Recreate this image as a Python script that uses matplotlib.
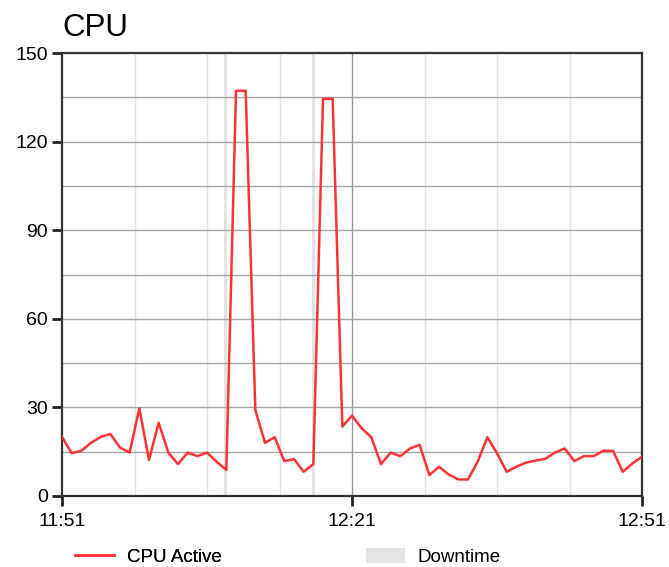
import numpy as np
import matplotlib.pyplot as plt
from matplotlib.lines import Line2D
from matplotlib.patches import Patch

plt.rcParams['font.family'] = ['Liberation Sans', 'DejaVu Sans']

# one sample per minute, 11:51 -> 12:51
minutes = np.arange(61)
cpu_active = [20, 14.5, 15.3, 18, 20, 21, 16.4, 14.7, 29.7, 12.2,
              24.8, 14.7, 10.8, 14.7, 13.5, 14.7, 11.6, 8.8, 137.2, 137.2,
              29.1, 18, 19.9, 11.8, 12.5, 8.2, 10.8, 134.5, 134.5, 23.5,
              27.2, 22.9, 19.9, 10.8, 14.7, 13.5, 16.1, 17.3, 7.1, 9.9,
              7.3, 5.6, 5.6, 11.6, 19.9, 14.5, 8.2, 9.9, 11.3, 12.0,
              12.6, 14.7, 16.1, 11.8, 13.5, 13.5, 15.3, 15.3, 8.2, 11.0,
              13.3]
downtime = [(16.8, 17.05), (25.9, 26.2)]   # minutes after 11:51
xtick_pos = [0, 30, 60]
xtick_labels = ['11:51', '12:21', '12:51']
yticks = [0, 30, 60, 90, 120, 150]

fig = plt.figure(figsize=(6.69, 5.67), dpi=100)
ax = fig.add_axes([62/669, 71/567, 580/669, 443/567])

# grid
for m in np.arange(7.5, 60, 7.5):
    if m == 30:
        ax.axvline(m, color='#999999', lw=1.0, zorder=1)
    else:
        ax.axvline(m, color='#e4e4e4', lw=1.0, zorder=1)
for v in np.arange(15, 150, 15):
    ax.axhline(v, color='#a6a6a6', lw=1.0, zorder=1)

for a, b in downtime:
    ax.axvspan(a, b, color='#e3e3e3', lw=0, zorder=0.5)

ax.plot(minutes, cpu_active, color='#ff3333', lw=1.8, zorder=3)

ax.set_xlim(0, 60)
ax.set_ylim(0, 150)
ax.set_xticks(xtick_pos)
ax.set_xticklabels(xtick_labels)
ax.set_yticks(yticks)
ax.tick_params(axis='both', direction='out', length=7, width=2,
               color='#222222', labelsize=14, pad=3)
ax.tick_params(axis='x', pad=5)
for s in ax.spines.values():
    s.set_color('#333333')
    s.set_linewidth(1.6)

fig.text(62/669, 1 - 36/567, 'CPU', fontsize=22.5, ha='left', va='baseline')

# legend: two separate entries placed like the original
leg_kw = dict(loc='center left', frameon=False, fontsize=13.5,
              borderpad=0, borderaxespad=0, handlelength=2.1,
              handleheight=0.9, handletextpad=0.65)
leg1 = fig.legend([Line2D([], [], color='#ff3333', lw=1.8)], ['CPU Active'],
                  bbox_to_anchor=(75/669, 10/567), **leg_kw)
fig.add_artist(leg1)
fig.legend([Patch(facecolor='#e3e3e3', edgecolor='none')], ['Downtime'],
           bbox_to_anchor=(366/669, 10/567), **leg_kw)

fig.savefig('out.png', dpi=100)
